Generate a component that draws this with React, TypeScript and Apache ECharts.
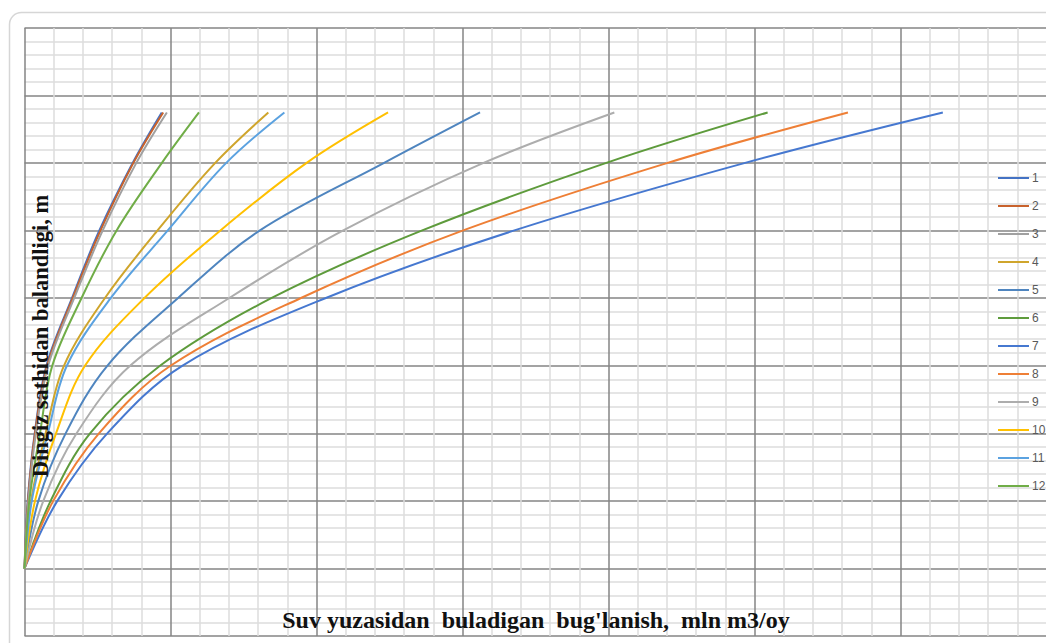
import React, { useEffect, useRef } from "react";
import * as echarts from "echarts";

// Elevation levels (m) shared by every curve
const levels = [0, 10, 20, 30, 40, 50, 60, 67.5];

// Evaporation (mln m3/month) at each level, per month
const s1 = [0, 0.22, 0.7, 1.5, 3.25, 5.12, 7.4, 9.4];
const s2 = [0, 0.24, 0.72, 1.55, 3.3, 5.2, 7.45, 9.5];
const s3 = [0, 0.27, 0.78, 1.62, 3.4, 5.35, 7.65, 9.75];
const s4 = [0, 0.45, 1.45, 2.7, 5.5, 9.1, 13.05, 16.7];
const s5 = [0, 0.95, 2.82, 5.67, 10.5, 16.1, 24.6, 31.2];
const s6 = [0, 1.79, 4.49, 9.28, 16.9, 27.2, 39.8, 50.9];
const s7 = [0, 2.25, 5.67, 10.8, 20.6, 33.5, 49.3, 62.9];
const s8 = [0, 1.97, 5.1, 10.0, 18.9, 30.0, 44.0, 56.4];
const s9 = [0, 1.29, 3.57, 7.23, 14.0, 21.8, 31.4, 40.4];
const s10 = [0, 0.72, 2.16, 4.14, 8.2, 13.4, 19.3, 24.9];
const s11 = [0, 0.5, 1.6, 2.9, 5.9, 9.8, 13.8, 17.8];
const s12 = [0, 0.33, 1.06, 1.9, 3.9, 6.3, 9.4, 11.95];

const seriesNames = ["1", "2", "3", "4", "5", "6", "7", "8", "9", "10", "11", "12"];
const seriesValues = [s1, s2, s3, s4, s5, s6, s7, s8, s9, s10, s11, s12];
const colors = [
  "#4472C4", "#C8622C", "#A0A0A0", "#CFA52C", "#4F85BF", "#5E9B3C",
  "#4678D0", "#EE7F36", "#ADADAD", "#FFC000", "#5BA2E0", "#70AD47",
];

const xTitle = "Suv yuzasidan  buladigan  bug'lanish,  mln m3/oy";
const yTitle = "Dingiz sathidan balandligi, m";

export default function App() {
  const ref = useRef<HTMLDivElement>(null);
  useEffect(() => {
    if (!ref.current) return;
    const chart = echarts.init(ref.current, null, { renderer: "svg" });
    const series = seriesValues.map((vals, i) => ({
      name: seriesNames[i],
      type: "line",
      data: vals.map((v, j) => [v, levels[j]]),
      symbol: "none",
      smooth: 0.35,
      lineStyle: { width: 2, color: colors[i] },
      itemStyle: { color: colors[i] },
      z: 3,
    }));
    chart.setOption({
      animation: false,
      backgroundColor: "#ffffff",
      grid: { left: 24.5, top: 28, width: 1168, height: 608, containLabel: false },
      xAxis: {
        type: "value",
        min: 0,
        max: 80,
        interval: 10,
        axisLine: { show: false },
        axisTick: { show: false },
        axisLabel: { show: false },
        splitLine: { show: true, lineStyle: { color: "#858585", width: 1.5 } },
        minorTick: { show: false, splitNumber: 5 },
        minorSplitLine: { show: true, lineStyle: { color: "#dcdcdc", width: 1.5 } },
      },
      yAxis: {
        type: "value",
        min: -10,
        max: 80,
        interval: 10,
        axisLine: { show: false },
        axisTick: { show: false },
        axisLabel: { show: false },
        splitLine: { show: true, lineStyle: { color: "#858585", width: 1.5 } },
        minorTick: { show: false, splitNumber: 5 },
        minorSplitLine: { show: true, lineStyle: { color: "#dcdcdc", width: 1.5 } },
      },
      legend: {
        orient: "vertical",
        left: 998,
        top: 171,
        padding: 0,
        itemWidth: 31,
        itemHeight: 2,
        itemGap: 14,
        icon: "rect",
        textStyle: {
          fontFamily: "Liberation Sans",
          fontSize: 12,
          color: "#595959",
          lineHeight: 14,
          padding: [0, 0, 0, -2],
        },
        data: seriesNames,
      },
      graphic: [
        {
          type: "rect",
          shape: { x: 9.5, y: 12.5, width: 1300, height: 800, r: 12 },
          style: { fill: "none", stroke: "#d6d6d6", lineWidth: 1.5 },
          silent: true,
          z: 0,
        },
        {
          type: "text",
          x: 536,
          y: 620,
          z: 100,
          style: {
            text: xTitle,
            fontFamily: "Liberation Serif",
            fontWeight: "bold",
            fontSize: 24,
            fill: "#111111",
            align: "center",
            verticalAlign: "middle",
          },
        },
        {
          type: "text",
          x: 40.5,
          y: 336,
          rotation: Math.PI / 2,
          z: 100,
          style: {
            text: yTitle,
            fontFamily: "Liberation Serif",
            fontWeight: "bold",
            fontSize: 22.5,
            fill: "#111111",
            align: "center",
            verticalAlign: "middle",
          },
        },
      ],
      series,
    });
    return () => chart.dispose();
  }, []);
  return (
    <div
      style={{ position: "absolute", left: 0, top: 0, width: 1046, height: 643, overflow: "hidden", background: "#fff" }}
    >
      <div ref={ref} style={{ width: 1300, height: 643 }} />
    </div>
  );
}
